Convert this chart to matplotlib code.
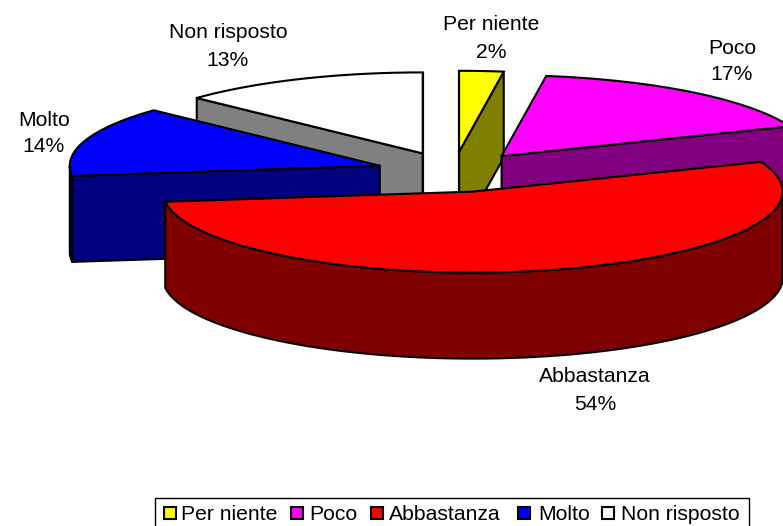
import numpy as np
import matplotlib.pyplot as plt
from matplotlib.patches import Polygon, Rectangle

# chart data
categories = ["Per niente", "Poco", "Abbastanza", "Molto", "Non risposto"]
values = [2.3, 16.7, 54, 14, 13]
top_colors = ["#ffff00", "#ff00ff", "#ff0000", "#0000ff", "#ffffff"]
side_colors = ["#808000", "#800080", "#7f0000", "#000080", "#808080"]

# pie geometry, in pixels
center_x, center_y = 453.5, 172.0
radius_x, radius_y = 310.0, 81.0
depth = 86.0
explode = 0.25
draw_order = [4, 0, 1, 3, 2]

# label centres (name line, value line)
label_x = [491, 732, 595, 44, 228]
label_y = [23, 46, 375, 118, 31]
line_gap = 27

# legend layout
legend_swatch_x = [164, 291, 371, 518, 602]
legend_text_x = [181, 309, 389, 538, 621]

plt.rcParams["font.family"] = ["Liberation Sans", "DejaVu Sans"]
FONT = 15.2
LW = 1.5

fig = plt.figure(figsize=(7.83, 5.26), dpi=100)
ax = fig.add_axes([0, 0, 1, 1])
ax.set_xlim(0, 783)
ax.set_ylim(526, 0)
ax.axis("off")


def rim_point(tip, angle):
    rad = np.radians(angle)
    return tip[0] + radius_x * np.sin(rad), tip[1] - radius_y * np.cos(rad)


def add_face(points, color):
    ax.add_patch(
        Polygon(points, closed=True, facecolor=color, edgecolor="black",
                linewidth=LW, joinstyle="miter")
    )


def radial_face(tip, angle, color):
    x, y = rim_point(tip, angle)
    add_face(
        [tip, (x, y), (x, y + depth), (tip[0], tip[1] + depth)], color
    )


# slice angles, clockwise from the top
edges = np.cumsum([0] + values) / sum(values) * 360.0

for i in draw_order:
    start, end = edges[i], edges[i + 1]
    mid = np.radians((start + end) / 2)
    tip = (
        center_x + explode * radius_x * np.sin(mid),
        center_y - explode * radius_y * np.cos(mid),
    )

    # only the cut faces turned towards the viewer
    if -np.sin(np.radians(start)) > -1e-6:
        radial_face(tip, start, side_colors[i])
    if np.sin(np.radians(end)) > -1e-6:
        radial_face(tip, end, side_colors[i])

    # outer wall, front half only
    lo, hi = max(start, 90), min(end, 270)
    if lo < hi:
        arc = [rim_point(tip, a) for a in np.linspace(lo, hi, 80)]
        lower = [(x, y + depth) for x, y in reversed(arc)]
        add_face(arc + lower, side_colors[i])

    # top face
    arc = [rim_point(tip, a) for a in np.linspace(start, end, 120)]
    add_face([tip] + arc, top_colors[i])

# labels
total = sum(values)
for i, name in enumerate(categories):
    ax.text(label_x[i], label_y[i], name, fontsize=FONT, ha="center",
            va="center_baseline", color="black")
    ax.text(label_x[i], label_y[i] + line_gap,
            "%d%%" % round(values[i] / total * 100), fontsize=FONT,
            ha="center", va="center_baseline", color="black")

# legend, its lower edge runs off the picture
ax.add_patch(Rectangle((155, 498), 594, 40, facecolor="white",
                       edgecolor="black", linewidth=1.0))
for i, name in enumerate(categories):
    ax.add_patch(Rectangle((legend_swatch_x[i], 507), 12, 12,
                           facecolor=top_colors[i], edgecolor="black",
                           linewidth=LW))
    ax.text(legend_text_x[i], 520, name, fontsize=FONT, ha="left",
            va="baseline", color="black")

fig.savefig("out.png", dpi=100)
